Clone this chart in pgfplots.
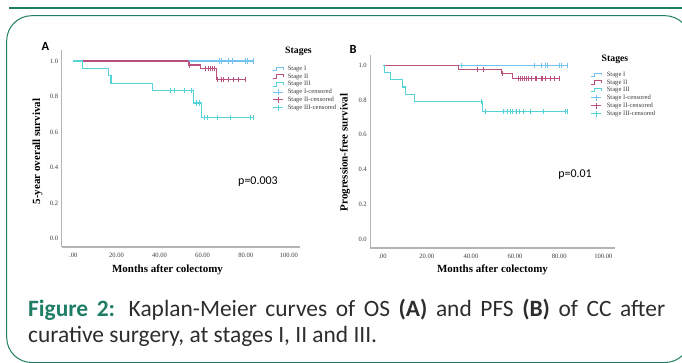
\documentclass[border=0pt]{standalone}
\usepackage{fontspec}
\setmainfont{Liberation Serif}
\newfontfamily\carlito{Carlito}
\usepackage{pgfplots}
\pgfplotsset{compat=1.18}
\definecolor{frame}{RGB}{30,125,100}
\definecolor{sI}{RGB}{115,195,240}
\definecolor{sII}{RGB}{185,80,125}
\definecolor{sIII}{RGB}{85,212,215}
\definecolor{axgray}{RGB}{180,180,180}
\definecolor{txtgray}{RGB}{60,60,60}
\definecolor{captxt}{RGB}{45,45,45}

\pgfplotsset{
 kmaxis/.style={
  scale only axis,
  axis x line*=bottom, axis y line*=left,
  axis line style={axgray, line width=1.2bp},
  major tick length=0pt,
  xtick={0,20,40,60,80,100},
  xticklabels={.00,20.00,40.00,60.00,80.00,100.00},
  ytick={0,0.2,0.4,0.6,0.8,1.0},
  yticklabel style={/pgf/number format/.cd, fixed, fixed zerofill, precision=1, assume math mode=true},
  ticklabel style={font=\fontsize{6.6}{7}\selectfont, text=txtgray},
  xticklabel style={yshift=-3bp},
  clip=false,
  legend style={draw=none, fill=none, anchor=north west, inner sep=0pt, outer sep=0pt,
    font=\fontsize{6.6}{7}\selectfont, text=txtgray, row sep=1.1bp, column sep=4bp,
    nodes={inner sep=0pt, text height=4.8bp, text depth=1.7bp}},
  legend cell align=left,
 },
 curve/.style={line width=1.2bp, const plot, forget plot},
 cens/.style={only marks, mark=|, mark size=2.6bp, mark options={line width=0.8bp}, forget plot},
 steplegend/.style={legend image code/.code={\draw[line width=0.8bp] (0bp,-1.7bp)--(3bp,-1.7bp)--(3bp,2bp)--(10bp,2bp)--(10bp,-0.5bp);}},
 censlegend/.style={legend image code/.code={\draw[line width=0.8bp] (0bp,0bp)--(10bp,0bp) (5bp,-3bp)--(5bp,3bp);}},
}

\begin{document}
\begin{tikzpicture}
\path[use as bounding box] (0bp,0bp) rectangle (682bp,363bp);
% frame
\draw[frame, line width=2.6bp] (9bp,355bp) -- (682bp,355bp);
\draw[frame, line width=1bp, rounded corners=25bp] (6.7bp,0.5bp) rectangle (690bp,347.3bp);

% ---------------- Panel A ----------------
\begin{axis}[kmaxis, at={(61.7bp,116bp)}, anchor=south west,
  width=238.3bp, height=197bp,
  xmin=-5.4, xmax=105.2, ymin=-0.047, ymax=1.062,
  legend style={at={(0.8867,0.920)}}]
\addplot[sI, curve] coordinates {(0,1) (84,1)};
\addplot[sI, cens] coordinates {(67.8,1) (68.9,1) (71.8,1) (74.0,1) (79.9,1) (81.0,1) (83.7,1)};
\addplot[sII, curve] coordinates {(0,1) (53.4,0.978) (58.9,0.956) (66.5,0.897) (79.7,0.897)};
\addplot[sII, cens] coordinates {(53.7,0.978) (61.5,0.956) (62.5,0.956) (63.5,0.956) (64.5,0.956) (65.7,0.956)
  (66.9,0.897) (68.5,0.897) (69.8,0.897) (71.9,0.897) (74.3,0.897) (76.6,0.897) (79.7,0.897)};
\addplot[sIII, curve] coordinates {(0,1) (4.2,0.958) (16.2,0.917) (17.5,0.875) (36.7,0.833) (55.9,0.764) (59.5,0.683) (84,0.683)};
\addplot[sIII, cens] coordinates {(44.9,0.833) (46.9,0.833) (51.5,0.833) (54.6,0.833) (57.3,0.764) (58.6,0.764)
  (60.9,0.683) (62.3,0.683) (66.8,0.683) (72.9,0.683) (82.4,0.683) (83.6,0.683)};
\addlegendimage{sI, steplegend}\addlegendentry{Stage I}
\addlegendimage{sII, steplegend}\addlegendentry{Stage II}
\addlegendimage{sIII, steplegend}\addlegendentry{Stage III}
\addlegendimage{sI, censlegend}\addlegendentry{Stage I-censored}
\addlegendimage{sII, censlegend}\addlegendentry{Stage II-censored}
\addlegendimage{sIII, censlegend}\addlegendentry{Stage III-censored}
\node[font=\carlito\fontsize{12}{13}\selectfont, text=black] at (axis cs:85.7,0.319) {p=0.003};
\end{axis}

% ---------------- Panel B ----------------
\begin{axis}[kmaxis, at={(370.3bp,115bp)}, anchor=south west,
  width=244.7bp, height=193bp,
  xmin=-5.6, xmax=105.3, ymin=-0.052, ymax=1.059,
  legend style={at={(0.902,0.9135)}, column sep=5bp}]
\addplot[sI, curve] coordinates {(0,1) (84,1)};
\addplot[sI, cens] coordinates {(35.8,1) (68.7,1) (71.8,1) (73.6,1) (74.6,1) (80.0,1) (80.8,1) (83.6,1)};
\addplot[sII, curve] coordinates {(0,1) (34.3,0.977) (53.9,0.952) (58.9,0.925) (80.1,0.925)};
\addplot[sII, cens] coordinates {(42.8,0.977) (45.8,0.977) (54.2,0.952)
  (61.5,0.925) (62.3,0.925) (63.3,0.925) (64.2,0.925) (65.2,0.925) (66.0,0.925) (67.2,0.925) (69.0,0.925)
  (69.9,0.925) (71.8,0.925) (72.6,0.925) (73.6,0.925) (75.8,0.925) (78.0,0.925) (80.1,0.925)};
\addplot[sIII, curve] coordinates {(0,1) (0.7,0.958) (3.6,0.917) (8.9,0.875) (10.4,0.833) (14.6,0.792) (45.4,0.735) (84,0.735)};
\addplot[sIII, cens] coordinates {(44.9,0.792) (46.6,0.735) (54.7,0.735) (56.7,0.735) (57.7,0.735) (58.6,0.735)
  (60.7,0.735) (61.8,0.735) (63.7,0.735) (66.8,0.735) (73.0,0.735) (82.6,0.735) (83.8,0.735)};
\addlegendimage{sI, steplegend}\addlegendentry{Stage I}
\addlegendimage{sII, steplegend}\addlegendentry{Stage II}
\addlegendimage{sIII, steplegend}\addlegendentry{Stage III}
\addlegendimage{sI, censlegend}\addlegendentry{Stage I-censored}
\addlegendimage{sII, censlegend}\addlegendentry{Stage II-censored}
\addlegendimage{sIII, censlegend}\addlegendentry{Stage III-censored}
\node[font=\carlito\fontsize{12}{13}\selectfont, text=black] at (axis cs:87.2,0.368) {p=0.01};
\end{axis}

% labels
\node[font=\carlito\bfseries\fontsize{12.5}{13}\selectfont] at (45.5bp,317bp) {A};
\node[font=\carlito\bfseries\fontsize{12.5}{13}\selectfont] at (353bp,313.5bp) {B};
\node[font=\bfseries\fontsize{9.8}{10}\selectfont] at (298.5bp,312bp) {Stages};
\node[font=\bfseries\fontsize{9.8}{10}\selectfont] at (615bp,304bp) {Stages};
\node[font=\bfseries\fontsize{11}{12}\selectfont, rotate=90] at (37.5bp,211.5bp) {5-year overall survival};
\node[font=\bfseries\fontsize{11}{12}\selectfont, rotate=90] at (345bp,210.5bp) {Progression-free survival};
\node[font=\bfseries\fontsize{11}{12}\selectfont] at (167.5bp,93bp) {Months after colectomy};
\node[font=\bfseries\fontsize{11}{12}\selectfont] at (492.5bp,93bp) {Months after colectomy};

% caption
\node[anchor=base west, inner sep=0pt, text width=637bp, align=justify,
      font=\carlito\fontsize{23.5}{25.5}\selectfont, text=captxt] at (28bp,46bp)
 {\textcolor{frame}{\bfseries Figure 2:} Kaplan-Meier curves of OS \textbf{(A)} and PFS \textbf{(B)} of CC after\linebreak curative surgery, at stages I, II and III.};
\end{tikzpicture}
\end{document}
